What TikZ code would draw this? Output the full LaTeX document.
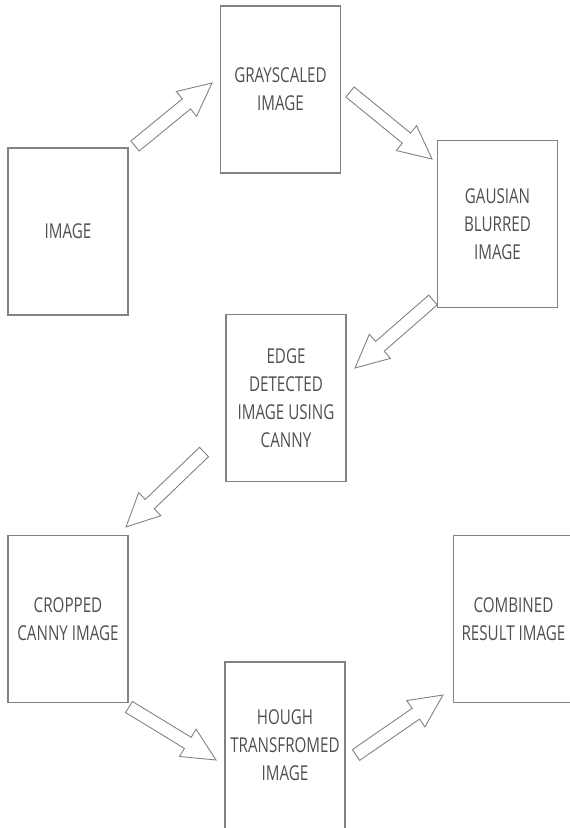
\documentclass[tikz,border=0pt]{standalone}
\usepackage{fontspec}
\setmainfont[FakeStretch=0.74]{Open Sans}
\usetikzlibrary{calc}

\definecolor{boxgray}{RGB}{130,130,130}
\definecolor{textgray}{RGB}{80,80,80}

\begin{document}
\begin{tikzpicture}[
            x=1pt,
            y=-1pt,
            stage/.style={
                draw=boxgray,
                line width=1.2pt,
                minimum width=120pt,
                minimum height=167pt,
                align=center,
                inner sep=1pt,
                text=textgray,
                font=\fontsize{20.5}{28}\selectfont
            },
            fatline/.style={
                draw=boxgray,
                line width=0.9pt,
                line join=miter
            }
        ]
            \useasboundingbox (0,0) rectangle (570,828);

            % stages of the pipeline
            \node[stage] (image) at (68,231.5) {IMAGE};
            \node[stage] (gray) at (280.5,89.5) {GRAYSCALED\\IMAGE};
            \node[stage] (blur) at (497.5,224) {GAUSIAN\\BLURRED\\IMAGE};
            \node[stage] (canny) at (286,398) {EDGE\\DETECTED\\IMAGE USING\\CANNY};
            \node[stage] (crop) at (68,619) {CROPPED\\CANNY IMAGE};
            \node[stage] (hough) at (285,745.5) {HOUGH\\TRANSFROMED\\IMAGE};
            \node[stage] (result) at (513.5,619) {COMBINED\\RESULT IMAGE};

            % ends of the block arrows
            \coordinate (s1) at (135,146);  \coordinate (e1) at (212,83);
            \coordinate (s2) at (350,92);   \coordinate (e2) at (432,159);
            \coordinate (s3) at (433,300);  \coordinate (e3) at (355,368);
            \coordinate (s4) at (204,452);  \coordinate (e4) at (126,527);
            \coordinate (s5) at (129,707);  \coordinate (e5) at (216,760);
            \coordinate (s6) at (356,755);  \coordinate (e6) at (443,695);

            \foreach \s/\e in {s1/e1,s2/e2,s3/e3,s4/e4,s5/e5,s6/e6} {
                \coordinate (n) at ($(\e)!33pt!(\s)$);
                \draw[fatline]
                    ($(\s)!6.5pt!90:(\e)$) -- ($(n)!6.5pt!90:(\e)$)
                    -- ($(n)!16pt!90:(\e)$) -- (\e)
                    -- ($(n)!16pt!-90:(\e)$) -- ($(n)!6.5pt!-90:(\e)$)
                    -- ($(\s)!6.5pt!-90:(\e)$) -- cycle;
            }
        \end{tikzpicture}
\end{document}
